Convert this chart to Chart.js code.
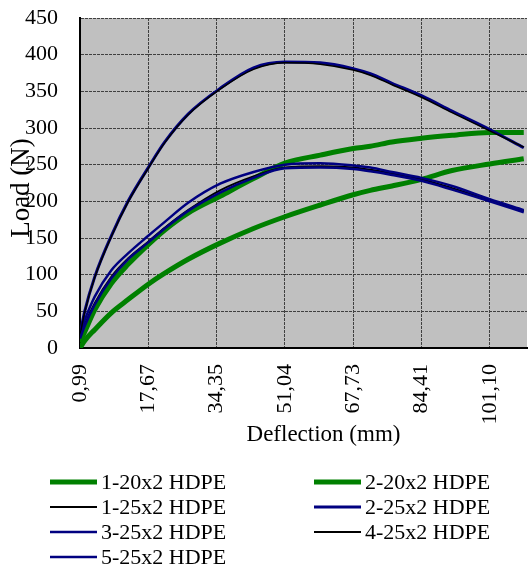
<!DOCTYPE html>
<html>
<head>
<meta charset="utf-8">
<script src="https://cdn.jsdelivr.net/npm/chart.js@4"></script>
<style>
body { margin: 0; background: #fff; }
</style>
</head>
<body>
<canvas id="chart" width="528" height="571"></canvas>
<script>
let deflection = [0.99, 2.14, 4.59, 8.65, 12.73, 17.67, 21.71, 27.41, 35.23, 43.38,
                  51.04, 59.69, 67.73, 71.92, 77.23, 84.41, 91.90, 101.10, 109.41];

let series_names = ['1-20x2 HDPE', '2-20x2 HDPE', '1-25x2 HDPE', '2-25x2 HDPE',
                    '3-25x2 HDPE', '4-25x2 HDPE', '5-25x2 HDPE'];

// load (N)
let load_1_20 = [8, 22, 52, 88, 114, 141, 161, 184, 207, 231, 252, 263, 272, 275, 281, 286, 290, 294, 294];
let load_2_20 = [0, 10, 25, 48, 66, 87, 102, 121, 143, 163, 179, 195, 209, 215, 221, 230, 242, 251, 258];
let load_1_25 = [15, 32, 61, 97, 122, 145, 164, 188, 215, 234, 246, 248, 246, 243, 238, 230, 218, 202, 187];
let load_2_25 = [18, 50, 97, 153, 200, 246, 281, 319, 354, 382, 390, 389, 381, 374, 361, 344, 323, 298, 273];
let load_3_25 = [20, 38, 70, 106, 129, 153, 172, 198, 224, 240, 250, 252, 249, 246, 240, 232, 221, 203, 188];
let load_4_25 = [17, 49, 96, 152, 199, 245, 280, 318, 353, 380, 389, 387, 379, 372, 359, 342, 321, 296, 274];
let load_5_25 = [13, 30, 59, 95, 121, 144, 163, 187, 212, 232, 245, 246, 244, 241, 236, 228, 216, 200, 185];

let tick_values = [0.99, 17.67, 34.35, 51.04, 67.73, 84.41, 101.10];
let tick_labels = ['0,99', '17,67', '34,35', '51,04', '67,73', '84,41', '101,10'];

let x_title = 'Deflection (mm)';
let y_title = 'Load (N)';

let all_loads = [load_1_20, load_2_20, load_1_25, load_2_25, load_3_25, load_4_25, load_5_25];
let line_colors = ['#008000', '#008000', '#000000', '#000080', '#000080', '#000000', '#000080'];
let line_widths = [5, 5, 2, 3, 2.5, 1.5, 2.5];

let font_name = '"Liberation Serif", "Times New Roman", serif';

let datasets = all_loads.map((loads, i) => ({
    label: series_names[i],
    data: deflection.map((d, j) => ({x: d, y: loads[j]})),
    borderColor: line_colors[i],
    backgroundColor: line_colors[i],
    borderWidth: line_widths[i],
    pointRadius: 0,
    cubicInterpolationMode: 'monotone',
    fill: false,
    order: -i,   // later series drawn on top, like the original
}));

// grey plot area
let plot_background = {
    id: 'plot_background',
    beforeDraw(chart) {
        let a = chart.chartArea;
        chart.ctx.save();
        chart.ctx.fillStyle = '#C0C0C0';
        chart.ctx.fillRect(a.left, a.top, a.right - a.left, a.bottom - a.top);
        chart.ctx.restore();
    }
};

// axis titles: the original has them off-centre, so they are placed by hand
let axis_titles = {
    id: 'axis_titles',
    afterDraw(chart) {
        let ctx = chart.ctx;
        let a = chart.chartArea;
        ctx.save();
        ctx.fillStyle = '#000';
        ctx.textAlign = 'center';
        ctx.textBaseline = 'middle';
        ctx.font = '23px ' + font_name;
        ctx.fillText(x_title, (a.left + a.right) / 2 + 20, a.bottom + 87);
        ctx.translate(22, (a.top + a.bottom) / 2 + 5);
        ctx.rotate(-Math.PI / 2);
        ctx.font = '27px ' + font_name;
        ctx.fillText(y_title, 0, 0);
        ctx.restore();
    }
};

// two column legend under the axis title
let bottom_legend = {
    id: 'bottom_legend',
    afterDraw(chart) {
        let ctx = chart.ctx;
        chart.data.datasets.forEach((ds, i) => {
            let x = 50 + (i % 2) * 264;
            let y = 482 + Math.floor(i / 2) * 25;
            ctx.save();
            ctx.strokeStyle = ds.borderColor;
            ctx.lineWidth = ds.borderWidth < 2 ? 2 : ds.borderWidth;
            ctx.beginPath();
            ctx.moveTo(x, y);
            ctx.lineTo(x + 47, y);
            ctx.stroke();
            ctx.fillStyle = '#000';
            ctx.font = '22px ' + font_name;
            ctx.textBaseline = 'middle';
            ctx.fillText(ds.label, x + 51, y + 1);
            ctx.restore();
        });
    }
};

Chart.defaults.color = '#000';

let ctx = document.getElementById('chart').getContext('2d');
let chart = new Chart(ctx, {
    type: 'line',
    data: { datasets: datasets },
    plugins: [plot_background, axis_titles, bottom_legend],
    options: {
        responsive: false,
        animation: false,
        layout: { padding: { top: 18, right: 1, bottom: 113, left: 0 } },
        plugins: {
            legend: { display: false },
            tooltip: { enabled: false },
        },
        scales: {
            x: {
                type: 'linear',
                min: 0.99,
                max: 110.2,
                afterBuildTicks: (scale) => { scale.ticks = tick_values.map(v => ({value: v})); },
                afterFit: (scale) => {
                    scale.height = 110;
                    scale.paddingLeft = 0;
                    scale.paddingRight = 0;
                },
                ticks: {
                    autoSkip: false,
                    minRotation: 90,
                    maxRotation: 90,
                    padding: 16,
                    font: { family: font_name, size: 22 },
                    callback: (value) => tick_labels[tick_values.indexOf(value)],
                },
                grid: { color: '#404040', lineWidth: 1, drawTicks: false },
                border: { color: '#000', width: 2, dash: [3, 1] },
            },
            y: {
                min: 0,
                max: 450,
                afterFit: (scale) => {
                    scale.width = 80;
                    scale.paddingTop = 12;
                    scale.paddingBottom = 12;
                },
                ticks: {
                    stepSize: 50,
                    padding: 22,
                    font: { family: font_name, size: 22 },
                },
                grid: { color: '#404040', lineWidth: 1, drawTicks: false },
                border: { color: '#000', width: 2, dash: [3, 1] },
            },
        },
    },
});
</script>
</body>
</html>
